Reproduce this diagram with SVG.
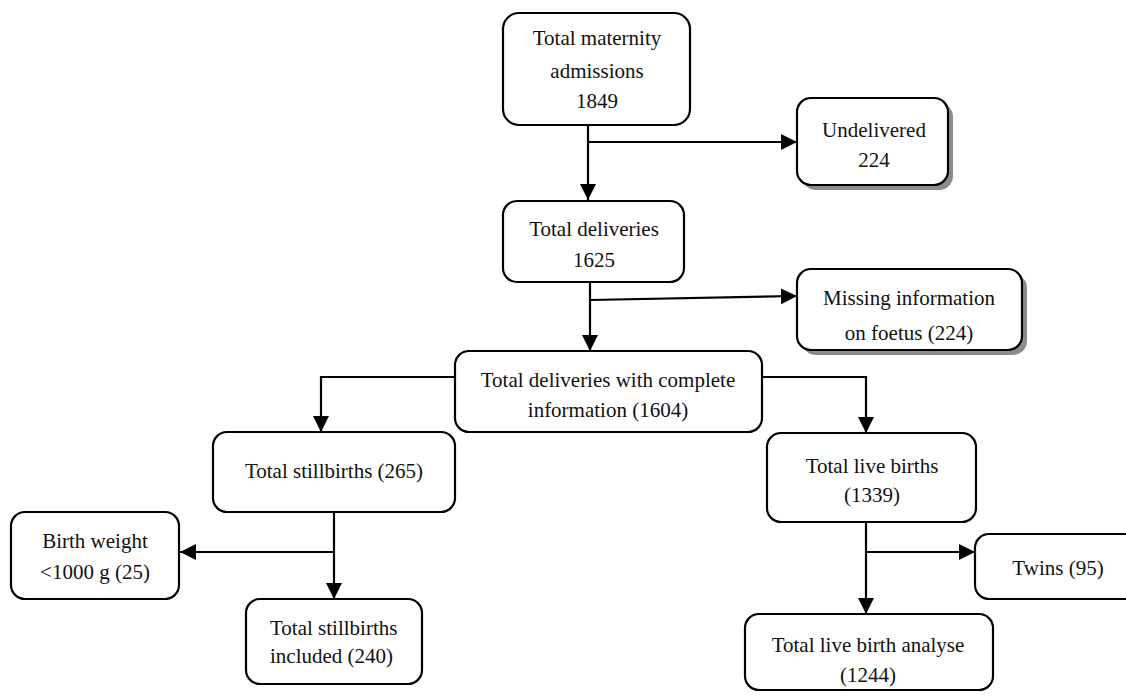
<svg xmlns="http://www.w3.org/2000/svg" width="1126" height="697" viewBox="0 0 1126 697">
<defs>
<marker id="ah" viewBox="0 0 16 16" refX="16" refY="8" markerWidth="16" markerHeight="16" markerUnits="userSpaceOnUse" orient="auto">
<path d="M0,0 L16,8 L0,16 Z" fill="#000"/>
</marker>
</defs>
<style>
.box{fill:#fff;stroke:#000;stroke-width:2.2}
.shadow{fill:#8c8c8c}
.t{font-family:"Liberation Serif","Times New Roman",serif;font-size:21px;fill:#111;text-anchor:middle}
.tl{font-family:"Liberation Serif","Times New Roman",serif;font-size:21px;fill:#111}
.c{fill:none;stroke:#000;stroke-width:2.2}
.ca{fill:none;stroke:#000;stroke-width:2.2;marker-end:url(#ah)}
</style>
<rect width="1126" height="697" fill="#fff"/>
<g id="connectors">
<path class="ca" d="M588,125 V200"/>
<path class="ca" d="M588,142 H797"/>
<path class="ca" d="M590,283 V351"/>
<path class="ca" d="M590,300 L797,296"/>
<path class="ca" d="M455,377 H321 V432"/>
<path class="ca" d="M762,377 H866 V433"/>
<path class="ca" d="M334,512 V599"/>
<path class="ca" d="M334,552 H180"/>
<path class="ca" d="M866,522 V614"/>
<path class="ca" d="M866,552 H975"/>
</g>
<g id="n1">
<rect class="box" x="503" y="13" width="187" height="112" rx="16"/>
<text class="t" x="597" y="45">Total maternity</text>
<text class="t" x="597" y="78">admissions</text>
<text class="t" x="597" y="108">1849</text>
</g>
<g id="n2">
<rect class="shadow" x="802" y="103" width="151" height="87" rx="14"/>
<rect class="box" x="797" y="98" width="151" height="87" rx="14"/>
<text class="t" x="874" y="137">Undelivered</text>
<text class="t" x="874" y="167">224</text>
</g>
<g id="n3">
<rect class="box" x="503" y="201" width="181" height="81" rx="14"/>
<text class="t" x="594" y="236">Total deliveries</text>
<text class="t" x="594" y="267">1625</text>
</g>
<g id="n4">
<rect class="shadow" x="802" y="274" width="225" height="81" rx="14"/>
<rect class="box" x="797" y="269" width="225" height="81" rx="14"/>
<text class="t" x="909" y="305">Missing information</text>
<text class="t" x="909" y="340">on foetus (224)</text>
</g>
<g id="n5">
<rect class="box" x="455" y="351" width="307" height="81" rx="14"/>
<text class="t" x="608" y="387">Total deliveries with complete</text>
<text class="t" x="608" y="417">information (1604)</text>
</g>
<g id="n6">
<rect class="box" x="213" y="432" width="242" height="80" rx="14"/>
<text class="t" x="334" y="478">Total stillbirths (265)</text>
</g>
<g id="n7">
<rect class="box" x="767" y="433" width="209" height="89" rx="14"/>
<text class="t" x="872" y="473">Total live births</text>
<text class="t" x="872" y="502">(1339)</text>
</g>
<g id="n8">
<rect class="box" x="11" y="512" width="168" height="87" rx="14"/>
<text class="t" x="95" y="548">Birth weight</text>
<text class="t" x="95" y="579">&lt;1000 g (25)</text>
</g>
<g id="n9">
<rect class="box" x="246" y="599" width="176" height="85" rx="14"/>
<text class="tl" x="270" y="635">Total stillbirths</text>
<text class="tl" x="270" y="663">included (240)</text>
</g>
<g id="n10">
<rect class="box" x="975" y="534" width="165" height="65" rx="14"/>
<text class="t" x="1058" y="575">Twins (95)</text>
</g>
<g id="n11">
<rect class="box" x="745" y="614" width="248" height="76" rx="14"/>
<text class="t" x="868" y="652">Total live birth analyse</text>
<text class="t" x="868" y="682">(1244)</text>
</g>
</svg>
